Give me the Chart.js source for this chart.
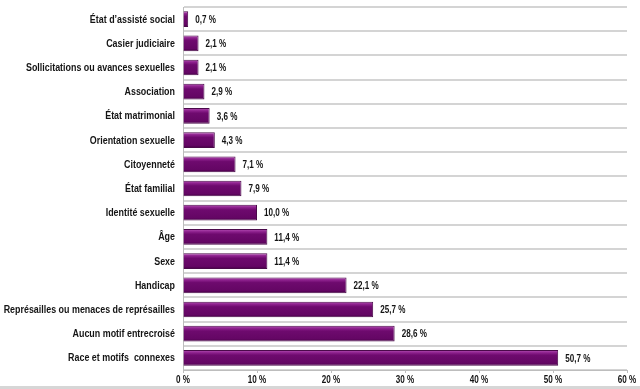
<!DOCTYPE html>
<html>
<head>
<meta charset="utf-8">
<script src="https://cdn.jsdelivr.net/npm/chart.js@4/dist/chart.umd.min.js"></script>
<style>
  html, body { margin: 0; padding: 0; background: #fff; }
  #wrap { width: 640px; height: 386px; border-bottom: 3px solid #d6d6d6; }
</style>
</head>
<body>
<div id="wrap"><canvas id="chart" width="640" height="386"></canvas></div>
<script>
// Data
const categories = [
  "État d’assisté social",
  "Casier judiciaire",
  "Sollicitations ou avances sexuelles",
  "Association",
  "État matrimonial",
  "Orientation sexuelle",
  "Citoyenneté",
  "État familial",
  "Identité sexuelle",
  "Âge",
  "Sexe",
  "Handicap",
  "Représailles ou menaces de représailles",
  "Aucun motif entrecroisé",
  "Race et motifs  connexes"
];
const values = [0.7, 2.1, 2.1, 2.9, 3.6, 4.3, 7.1, 7.9, 10.0, 11.4, 11.4, 22.1, 25.7, 28.6, 50.7];
const xTicks = [0, 10, 20, 30, 40, 50, 60];

const FONT = "'Liberation Sans', Arial, sans-serif";
const SQUEEZE = 0.81; // the original font is narrower than Arial
const fmt = v => v.toFixed(1).replace('.', ',') + ' %';

// vertical gradient per bar, built from the bar's own position
function barFill(c) {
  const chart = c.chart, area = chart.chartArea;
  if (!area || c.dataIndex === undefined) return '#6a0a6a';
  const el = c.element;
  const y = el && el.y !== undefined ? el.y : chart.scales.y.getPixelForValue(c.dataIndex);
  const h = el && el.height ? el.height : 15;
  const g = chart.ctx.createLinearGradient(0, y - h / 2, 0, y + h / 2);
  g.addColorStop(0, '#b24cb2');
  g.addColorStop(0.16, '#8c208c');
  g.addColorStop(0.32, '#6e0a6e');
  g.addColorStop(0.85, '#640664');
  g.addColorStop(1, '#480048');
  return g;
}

// draw narrow text: x is the anchor point
function narrowText(ctx, text, x, y, align) {
  ctx.save();
  ctx.translate(x, y);
  ctx.scale(SQUEEZE, 1);
  ctx.textAlign = align;
  ctx.fillText(text, 0, 0);
  ctx.restore();
}

// category labels, value labels and x tick labels
const textLayer = {
  id: 'textLayer',
  afterDraw(chart) {
    const ctx = chart.ctx;
    const meta = chart.getDatasetMeta(0);
    const ys = chart.scales.y, xs = chart.scales.x;
    ctx.save();
    ctx.textBaseline = 'middle';
    ctx.fillStyle = '#141414';
    ctx.font = "bold 11px " + FONT;
    categories.forEach((c, i) => {
      narrowText(ctx, c, ys.right - 8, ys.getPixelForValue(i) + 0.5, 'right');
    });
    ctx.font = "bold 10px " + FONT;
    meta.data.forEach((bar, i) => {
      narrowText(ctx, fmt(values[i]), bar.x + 7, bar.y + 1, 'left');
    });
    xTicks.forEach(v => {
      narrowText(ctx, v + ' %', xs.getPixelForValue(v), xs.top + 10, 'center');
    });
    ctx.restore();
  }
};

new Chart(document.getElementById('chart'), {
  type: 'bar',
  data: {
    labels: categories,
    datasets: [{
      data: values,
      backgroundColor: barFill,
      borderColor: '#4a0a4a',
      borderWidth: 1,
      borderSkipped: 'left',
      barPercentage: 0.72,
      categoryPercentage: 0.9
    }]
  },
  options: {
    indexAxis: 'y',
    responsive: false,
    animation: false,
    layout: { padding: { top: 7, right: 13, left: 0, bottom: 0 } },
    plugins: { legend: { display: false }, tooltip: { enabled: false } },
    scales: {
      x: {
        min: 0, max: 60,
        afterBuildTicks: s => { s.ticks = xTicks.map(v => ({ value: v })); },
        afterFit: s => { s.height = 16; },
        grid: { drawOnChartArea: false, drawTicks: true, tickLength: 3, color: '#bdbdbd' },
        border: { color: '#bdbdbd', width: 1 },
        ticks: { display: false }
      },
      y: {
        afterFit: s => { s.width = 183; },
        grid: { offset: true, drawTicks: false, color: '#d4d4d4', lineWidth: 2 },
        border: { color: '#bdbdbd', width: 1 },
        ticks: { display: false }
      }
    }
  },
  plugins: [textLayer]
});
</script>
</body>
</html>
